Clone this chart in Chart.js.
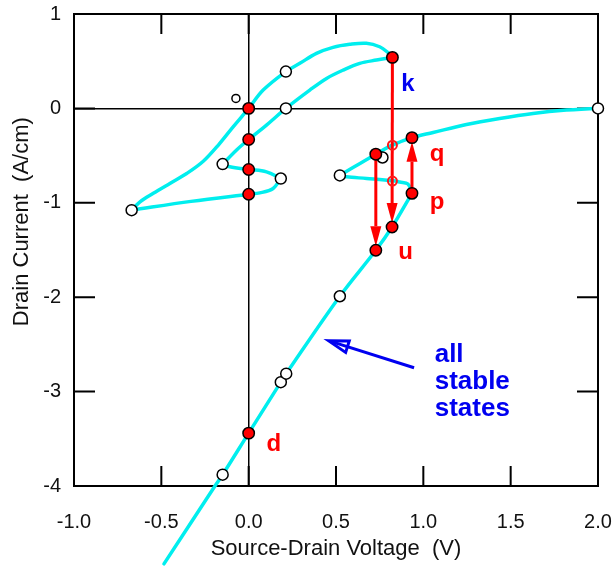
<!DOCTYPE html>
<html>
<head>
<meta charset="utf-8">
<script src="https://cdn.jsdelivr.net/npm/chart.js@4.4.0/dist/chart.umd.min.js"></script>
<style>
  body { margin: 0; background: #fff; }
</style>
</head>
<body>
<canvas id="chart" width="614" height="567"></canvas>
<script>
// tick values
const xTicks = [-1.0, -0.5, 0.0, 0.5, 1.0, 1.5, 2.0];
const yTicks = [-4, -3, -2, -1, 0, 1];

// loop in the upper left as [V, I] pairs
const outerArc = [[-0.67, -1.078], [-0.622, -0.99], [-0.546, -0.90], [-0.451, -0.795], [-0.355, -0.69],
  [-0.26, -0.56], [-0.17, -0.38], [-0.089, -0.195], [0, 0], [0.083, 0.194], [0.213, 0.39], [0.293, 0.477], [0.388, 0.583],
  [0.483, 0.647], [0.579, 0.679], [0.674, 0.69], [0.75, 0.653], [0.798, 0.59], [0.823, 0.54]];
const innerArc = [[0.823, 0.54], [0.732, 0.512], [0.636, 0.477], [0.541, 0.406], [0.446, 0.318], [0.35, 0.194],
  [0.213, 0], [0.102, -0.177], [0, -0.33], [-0.069, -0.44], [-0.149, -0.59]];
const midLink = [[-0.149, -0.59], [-0.108, -0.619], [0, -0.647], [0.102, -0.672], [0.184, -0.743]];
const lowLink = [[0.184, -0.743], [0.14, -0.848], [0.064, -0.895], [0, -0.909], [-0.33, -0.985], [-0.67, -1.078]];

// the long branch
const mainBranch = [[-0.485, -4.825], [-0.193, -4.0], [-0.149, -3.88], [0, -3.44], [0.184, -2.90], [0.215, -2.81],
  [0.522, -1.99], [0.728, -1.503], [0.821, -1.256], [0.923, -0.937], [0.935, -0.90]];
const backBranch = [[0.935, -0.90], [0.912, -0.80], [0.865, -0.78], [0.827, -0.767], [0.675, -0.742], [0.56, -0.725], [0.522, -0.71]];
const upperBranch = [[0.522, -0.71], [0.728, -0.485], [0.823, -0.39], [0.935, -0.31], [1.056, -0.255], [1.247, -0.17],
  [1.437, -0.106], [1.628, -0.053], [1.819, -0.018], [2.0, 0], [2.093, 0]];

// markers
const openStates = [[-0.67, -1.078], [-0.149, -0.59], [0.184, -0.743], [0.213, 0.39], [0.213, 0], [-0.149, -3.88],
  [0.184, -2.90], [0.215, -2.81], [0.522, -1.99], [0.522, -0.71], [0.766, -0.52], [2.0, 0]];
const smallOpen = [[-0.073, 0.106]];
const redStates = [[0, 0], [0, -0.33], [0, -0.647], [0, -0.909], [0, -3.44], [0.823, 0.54], [0.821, -1.256],
  [0.728, -1.503], [0.935, -0.90], [0.935, -0.31], [0.728, -0.485]];
const crossings = [[0.823, -0.39], [0.823, -0.77]];

// jumps between states: [from, to]
const jumps = [
  [[0.823, 0.54], [0.821, -1.256]],
  [[0.728, -0.485], [0.728, -1.503]],
  [[0.935, -0.90], [0.935, -0.31]]
];
const pointerArrow = [[0.947, -2.747], [0.451, -2.457]];

// letters next to the states, anchored at their baseline
const stateNames = ['k', 'q', 'p', 'u', 'd'];
const stateNameColors = ['#0000f0', '#ff0000', '#ff0000', '#ff0000', '#ff0000'];
const stateNameAt = [[0.912, 0.187], [1.078, -0.556], [1.078, -1.068], [0.899, -1.598], [0.144, -3.624]];
const noteLines = ['all', 'stable', 'states'];
const noteAt = [1.065, -2.69];

const CYAN = 'rgb(0,238,238)';
const FONT = "'Liberation Sans', Arial, sans-serif";

const xy = pts => pts.map(([x, y]) => ({ x: x, y: y }));

function curve(pts) {
  return {
    data: xy(pts), showLine: true, borderColor: CYAN, borderWidth: 3.5,
    pointRadius: 0, tension: 0.35, clip: false, order: 10, borderCapStyle: 'round'
  };
}

function markers(label, pts, fill, stroke, r, bw, order) {
  return {
    label: label, data: xy(pts), showLine: false, pointRadius: r, pointBackgroundColor: fill,
    pointBorderColor: stroke, pointBorderWidth: bw, clip: false, order: order
  };
}

function drawArrow(ctx, x0, y0, x1, y1, gap, head, width, open) {
  const a = Math.atan2(y1 - y0, x1 - x0);
  const c = Math.cos(a), s = Math.sin(a);
  const tx = x1 - c * gap, ty = y1 - s * gap;
  const bx = tx - c * head, by = ty - s * head;
  ctx.beginPath();
  ctx.moveTo(x0, y0);
  ctx.lineTo(open ? tx - c * 4 : bx, open ? ty - s * 4 : by);
  ctx.stroke();
  const nx = -s * width / 2, ny = c * width / 2;
  ctx.beginPath();
  ctx.moveTo(tx, ty);
  ctx.lineTo(bx + nx, by + ny);
  ctx.lineTo(bx - nx, by - ny);
  ctx.closePath();
  if (open) {
    ctx.stroke();
  } else {
    ctx.fill();
  }
}

// frame with inward ticks on all four sides
const framePlugin = {
  id: 'frame',
  beforeDatasetsDraw(chart) {
    const { ctx, chartArea: a, scales: { x, y } } = chart;
    ctx.save();
    ctx.strokeStyle = '#000';
    ctx.lineWidth = 2;
    ctx.strokeRect(a.left, a.top, a.right - a.left, a.bottom - a.top);
    ctx.beginPath();
    xTicks.forEach(v => {
      const px = x.getPixelForValue(v);
      ctx.moveTo(px, a.bottom); ctx.lineTo(px, a.bottom - 20);
      ctx.moveTo(px, a.top); ctx.lineTo(px, a.top + 20);
    });
    yTicks.forEach(v => {
      const py = y.getPixelForValue(v);
      ctx.moveTo(a.left, py); ctx.lineTo(a.left + 21, py);
      ctx.moveTo(a.right, py); ctx.lineTo(a.right - 21, py);
    });
    ctx.stroke();

    // y axis title
    ctx.translate(22, y.getPixelForValue(-1.2));
    ctx.rotate(-Math.PI / 2);
    ctx.fillStyle = '#111';
    ctx.font = '22px ' + FONT;
    ctx.textAlign = 'center';
    ctx.textBaseline = 'middle';
    ctx.fillText('Drain Current  (A/cm)', 0, 0);
    ctx.restore();
  },
  // red jump arrows go above the curves but under the markers
  beforeDatasetDraw(chart, args) {
    if (chart.data.datasets[args.index].label !== 'crossings') return;
    const { ctx, scales: { x, y } } = chart;
    ctx.save();
    ctx.strokeStyle = '#ff0000';
    ctx.fillStyle = '#ff0000';
    ctx.lineWidth = 3;
    jumps.forEach(([f, t]) => {
      drawArrow(ctx, x.getPixelForValue(f[0]), y.getPixelForValue(f[1]),
        x.getPixelForValue(t[0]), y.getPixelForValue(t[1]), 4, 20, 11, false);
    });
    ctx.restore();
  },
  afterDatasetsDraw(chart) {
    const { ctx, scales: { x, y } } = chart;
    ctx.save();
    ctx.textAlign = 'center';
    ctx.textBaseline = 'alphabetic';
    ctx.font = 'bold 24px ' + FONT;
    stateNames.forEach((n, i) => {
      ctx.fillStyle = stateNameColors[i];
      ctx.fillText(n, x.getPixelForValue(stateNameAt[i][0]), y.getPixelForValue(stateNameAt[i][1]));
    });
    ctx.fillStyle = '#0000f0';
    ctx.textAlign = 'left';
    ctx.font = 'bold 26px ' + FONT;
    noteLines.forEach((t, i) => {
      ctx.fillText(t, x.getPixelForValue(noteAt[0]), y.getPixelForValue(noteAt[1]) + i * 27);
    });
    ctx.strokeStyle = '#0000f0';
    ctx.lineWidth = 3;
    ctx.lineJoin = 'miter';
    const [f, t] = pointerArrow;
    drawArrow(ctx, x.getPixelForValue(f[0]), y.getPixelForValue(f[1]),
      x.getPixelForValue(t[0]), y.getPixelForValue(t[1]), 1, 20, 12, true);
    ctx.restore();
  }
};

new Chart(document.getElementById('chart'), {
  type: 'scatter',
  data: {
    datasets: [
      curve(outerArc), curve(innerArc), curve(midLink), curve(lowLink),
      curve(mainBranch), curve(backBranch), curve(upperBranch),
      markers('crossings', crossings, 'rgba(0,0,0,0)', '#ff1a1a', 4.5, 2, 4),
      markers('open', openStates, '#fff', '#000', 5.5, 1.5, 3),
      markers('small', smallOpen, '#fff', '#000', 4, 1.5, 3),
      markers('red', redStates, '#ff0000', '#000', 5.7, 1.5, 1)
    ]
  },
  options: {
    responsive: false,
    animation: false,
    layout: { padding: { top: 14, right: 16, left: 0, bottom: 0 } },
    plugins: { legend: { display: false }, tooltip: { enabled: false } },
    scales: {
      x: {
        type: 'linear', min: -1, max: 2,
        afterBuildTicks: s => { s.ticks = xTicks.map(v => ({ value: v })); },
        afterFit: s => { s.height = 81; s.paddingLeft = 0; s.paddingRight = 0; },
        grid: {
          drawTicks: false, lineWidth: 1.5,
          color: c => (c.tick && c.tick.value === 0 ? '#000' : 'rgba(0,0,0,0)')
        },
        border: { display: false },
        ticks: {
          padding: 24, color: '#111', font: { family: FONT, size: 20 },
          maxRotation: 0, autoSkip: false, callback: v => v.toFixed(1)
        },
        title: {
          display: true, text: 'Source-Drain Voltage  (V)', color: '#111',
          font: { family: FONT, size: 22 }, padding: { top: 0, bottom: 5 }
        }
      },
      y: {
        type: 'linear', min: -4, max: 1,
        afterBuildTicks: s => { s.ticks = yTicks.map(v => ({ value: v })); },
        afterFit: s => { s.width = 74; s.paddingTop = 0; s.paddingBottom = 0; },
        grid: {
          drawTicks: false, lineWidth: 1.5,
          color: c => (c.tick && c.tick.value === 0 ? '#000' : 'rgba(0,0,0,0)')
        },
        border: { display: false },
        ticks: { padding: 13, color: '#111', font: { family: FONT, size: 20 }, autoSkip: false }
      }
    }
  },
  plugins: [framePlugin]
});
</script>
</body>
</html>
